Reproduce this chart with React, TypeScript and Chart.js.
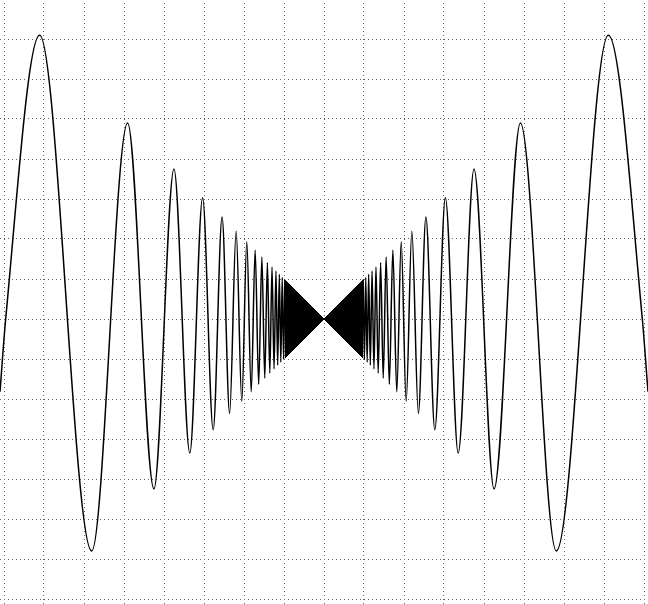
import React, { useEffect, useRef } from 'react';
import { Chart, registerables } from 'chart.js';

Chart.register(...registerables);

// Axis ranges (same units on both axes)
const X_MIN = -0.081;
const X_MAX = 0.081;
const Y_MIN = -0.07125;
const Y_MAX = 0.07975;

// Grid tick values
const xTicks = [-0.08, -0.07, -0.06, -0.05, -0.04, -0.03, -0.02, -0.01, 0, 0.01, 0.02, 0.03, 0.04, 0.05, 0.06, 0.07, 0.08];
const yTicks = [-0.07, -0.06, -0.05, -0.04, -0.03, -0.02, -0.01, 0, 0.01, 0.02, 0.03, 0.04, 0.05, 0.06, 0.07];

// Curve end at the plot edge, and the first zero crossing (distance from centre)
const edgeAbsX = 0.081;
const edgeY = -0.0182;
const firstZeroAbsX = 0.07958;

// Local extrema of the oscillation (distance from centre, value);
// the curve is mirror-symmetric about the vertical centre line.
const extremaAbsX = [
  0.071092, 0.058069, 0.049088, 0.042518, 0.037501, 0.033544, 0.030343, 0.027701,
  0.025481, 0.023592, 0.021963, 0.020545, 0.019299, 0.018195, 0.017211, 0.016328,
  0.015531, 0.014808, 0.014150, 0.013548, 0.012994, 0.012485, 0.012013, 0.011576,
  0.011170, 0.010791, 0.010438, 0.010106, 0.009795,
];
const extremaY = [
  0.070912, -0.057971, 0.04903, -0.04248, 0.037475, -0.033525, 0.030329, -0.02769,
  0.025473, -0.023585, 0.021958, -0.020541, 0.019295, -0.018192, 0.017208, -0.016326,
  0.015529, -0.014806, 0.014149, -0.013547, 0.012993, -0.012484, 0.012012, -0.011575,
  0.011169, -0.01079, 0.010437, -0.010105, 0.009794,
];

// Solid (densely oscillating) bow-tie at the centre: envelope
const bowX = [-0.009795, 0, 0.009795];
const bowUpper = [0.009794, 0, 0.009794];
const bowLower = [-0.009794, 0, -0.009794];

export default function App() {
  const ref = useRef<HTMLCanvasElement>(null);

  useEffect(() => {
    const left = [
      { x: -edgeAbsX, y: edgeY },
      { x: -firstZeroAbsX, y: 0 },
      ...extremaAbsX.map((ax, i) => ({ x: -ax, y: extremaY[i] })),
    ];
    const right = [
      ...extremaAbsX.map((ax, i) => ({ x: ax, y: extremaY[i] })).reverse(),
      { x: firstZeroAbsX, y: 0 },
      { x: edgeAbsX, y: edgeY },
    ];
    const upper = bowX.map((x, i) => ({ x, y: bowUpper[i] }));
    const lower = bowX.map((x, i) => ({ x, y: bowLower[i] }));

    const curveStyle = {
      borderColor: '#000',
      borderWidth: 1.5,
      pointRadius: 0,
      fill: false,
      cubicInterpolationMode: 'monotone' as const,
    };

    const chart = new Chart(ref.current!, {
      type: 'line',
      data: {
        datasets: [
          { data: left, ...curveStyle },
          { data: right, ...curveStyle },
          {
            data: upper,
            borderColor: '#000',
            backgroundColor: '#000',
            borderWidth: 1,
            pointRadius: 0,
            tension: 0,
            fill: '+1',
          },
          {
            data: lower,
            borderColor: '#000',
            borderWidth: 1,
            pointRadius: 0,
            tension: 0,
            fill: false,
          },
        ],
      },
      options: {
        responsive: false,
        animation: false,
        events: [],
        layout: { padding: 0 },
        plugins: { legend: { display: false }, tooltip: { enabled: false } },
        scales: {
          x: {
            type: 'linear',
            min: X_MIN,
            max: X_MAX,
            afterBuildTicks: (axis: any) => {
              axis.ticks = xTicks.map((v) => ({ value: v }));
            },
            ticks: { display: false },
            grid: { color: '#666', drawTicks: false, lineWidth: 1 },
            border: { display: false, dash: [1, 3], dashOffset: 1 },
          },
          y: {
            type: 'linear',
            min: Y_MIN,
            max: Y_MAX,
            afterBuildTicks: (axis: any) => {
              axis.ticks = yTicks.map((v) => ({ value: v }));
            },
            ticks: { display: false },
            grid: { color: '#666', drawTicks: false, lineWidth: 1 },
            border: { display: false, dash: [1, 3] },
          },
        },
      },
    });
    return () => chart.destroy();
  }, []);

  return (
    <div style={{ position: 'fixed', left: 0, top: 0, width: 648, height: 604 }}>
      <canvas ref={ref} width={648} height={604} style={{ display: 'block' }} />
    </div>
  );
}
